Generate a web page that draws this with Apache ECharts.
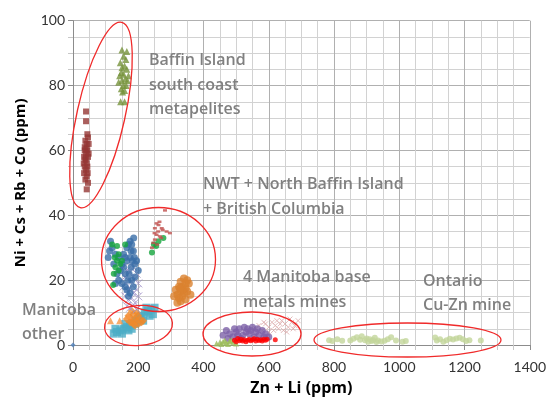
<!DOCTYPE html>
<html>
<head>
<meta charset="utf-8">
<script src="https://cdn.jsdelivr.net/npm/echarts@6/dist/echarts.min.js"></script>
<style>html,body{margin:0;padding:0;background:#fff}#c{width:549px;height:401px}</style>
</head>
<body>
<div id="c"></div>
<script>
// ---- data (x = Zn + Li ppm, y = Ni + Cs + Rb + Co ppm) ----
const xTicks = [0, 200, 400, 600, 800, 1000, 1200, 1400];
const yTicks = [0, 20, 40, 60, 80, 100];

const baffinSouthSquares = [[40,72],[40,69],[44,65],[46,64],[38,63],[42,62],[48,62],[36,61],[44,60],[40,59],[34,58],[46,58],[38,57],[42,56],[36,55],[44,55],[40,54],[34,53],[42,52],[38,51],[46,50],[42,48],[36,60],[48,59],[39,57.5],[45,53],[33,56],[41,60.5]];
const baffinSouthTriangles = [[150,91],[165,90.5],[155,89],[162,88],[145,87],[158,86],[150,85.5],[165,85],[148,84],[155,83.5],[170,83],[143,83],[160,82],[150,81.5],[167,81.5],[140,81],[155,80],[163,80],[148,79],[158,78.5],[152,78],[146,75],[158,75]];
const nwtBlue = [[115,32],[112,29],[108,27],[120,30],[125,25],[130,28],[140,27],[150,25],[155,24],[160,27],[165,30],[170,31],[175,32],[180,31],[185,29],[188,27],[182,26],[178,24],[172,22],[168,20],[160,22],[165,26],[175,27],[190,25],[195,26],[180,20],[185,18],[175,16],[170,15],[160,18],[150,19],[140,20],[135,22],[145,23],[155,28],[130,19],[200,23],[190,21],[165,17],[178,29],[186,33]];
const northBaffinGreen = [[120,31],[135,30.5],[160,31],[140,28],[128,27],[135,26],[145,25],[130,24],[140,23],[125,22],[123,18.5],[150,26],[242,28.5],[248,31],[262,32],[277,33],[255,30.5]];
const nwtPurpleX = [[155,24],[165,23],[175,22.5],[185,24],[195,22],[160,21],[170,20],[180,19.5],[190,20.5],[200,19],[155,18],[165,17],[175,17.5],[185,16],[195,17],[160,15],[170,14],[180,14.5],[190,13],[200,15],[165,12],[175,11.5],[185,12],[195,11],[150,20]];
const bcRedSmall = [[282,41.5],[256,37.5],[262,37],[272,36],[251,36],[261,35],[287,35],[297,34.5],[256,34],[266,33.5],[251,32.5],[246,31.5],[270,33],[258,31],[242,30],[275,35.5],[250,34.5],[265,38]];
const nwtOrange = [[340,20.5],[350,20],[330,19.5],[345,19],[355,19],[335,18],[325,18],[345,17.5],[315,17],[330,16.5],[340,16],[350,16.5],[320,15.5],[310,15],[335,15],[325,14.5],[345,14],[330,13.5],[320,13],[360,15.5],[338,17],[328,17.5]];
const manitobaOtherBlue = [[125,3.5],[135,4],[145,4.5],[155,5],[165,5.5],[175,6],[180,5],[190,6.5],[195,7],[200,8],[205,8.5],[210,9],[220,10],[230,10.5],[240,11],[250,11.5],[235,9],[215,7.5],[150,3.5],[170,4.5],[185,7.5],[225,11.5],[245,9.5],[130,5],[160,6.5]];
const manitobaOtherTriangles = [[115,7.5],[143,7.5],[170,9]];
const manitobaOtherOrange = [[165,8],[170,9],[175,8.5],[180,7],[185,9.5],[190,8],[195,7.5],[200,9],[205,8],[210,7],[185,6.5],[175,7],[195,10],[180,10.5],[215,7.5],[200,6.5],[190,6]];
const mineAPurple = [[460,3],[470,4.5],[480,3.5],[490,2.5],[500,4],[510,5],[520,3],[530,4],[540,3.5],[550,5.5],[560,4],[570,3],[580,4.5],[590,3.5],[600,2.5],[475,2],[495,5],[515,2],[535,5],[555,2.5],[545,4.5],[565,5],[585,2.5],[505,3],[525,5.5]];
const mineBPink = [[560,5],[570,6],[580,4.5],[590,6.5],[600,5.5],[610,7],[620,6],[630,5],[640,7.5],[650,6.5],[660,5.5],[670,7],[680,6],[690,7.5],[600,4],[625,7.5],[645,4.5],[665,8],[585,7],[615,4.5],[655,4],[675,5],[635,6.5]];
const mineCGreen = [[440,0.5],[450,0.8],[460,1],[470,0.6],[480,1.2],[490,0.8],[500,0.5],[455,0.3],[475,0.3],[485,1.5],[465,1.4]];
const mineDRed = [[495,1.5],[500,1],[505,2],[510,1.3],[515,1.8],[520,1.2],[525,1.6],[530,1],[540,1.8],[545,1.3],[550,1.6],[560,1.2],[565,1.8],[570,1.4],[575,1.6],[580,1.2],[590,1.5],[595,1.8],[620,1.6],[535,1.5],[555,1.9],[585,1.8]];
const ontarioCuZn = [[785,1.5],[795,1.2],[810,1.8],[825,1.3],[850,1.4],[860,1.9],[870,2.4],[880,1.6],[885,2.7],[895,1.5],[900,2.0],[905,1.0],[910,1.8],[915,1.2],[920,1.5],[925,2.2],[930,0.9],[935,1.4],[945,1.1],[955,1.3],[965,1.8],[975,2.4],[990,1.4],[1010,1.0],[1020,1.2],[1110,2.3],[1115,1.4],[1125,1.8],[1135,1.0],[1145,1.5],[1155,1.9],[1165,1.7],[1175,2.0],[1185,2.2],[1195,1.8],[1205,1.2],[1215,1.5],[1250,1.4]];
const originPoint = [[0,0]];

// ---- chart ----
const FONT = 'Lato, "Liberation Sans", sans-serif';
const AFONT = '"Open Sans", Lato, sans-serif';
const chart = echarts.init(document.getElementById('c'), null, {renderer: 'canvas'});
const xPath = 'path://M0,0L10,10M10,0L0,10';
function sc(data, symbol, size, color, extra) {
  return Object.assign({type: 'scatter', data: data, symbol: symbol, symbolSize: size,
    itemStyle: {color: color}, silent: true, animation: false}, extra || {});
}
const ellStyle = {fill: 'none', stroke: '#f02a2a', lineWidth: 1.3};
function ell(cx, cy, rx, ry, rot) {
  return {type: 'ellipse', shape: {cx: cx, cy: cy, rx: rx, ry: ry}, style: ellStyle,
    rotation: rot || 0, originX: cx, originY: cy, silent: true, z: 10};
}
// y = vertical centre of the whole text block
function label(x, y, text) {
  return {type: 'text', x: x, y: y, style: {text: text, fill: '#808080', font: '600 16px ' + AFONT,
    lineHeight: 24.5, textVerticalAlign: 'middle'}, silent: true, z: 11};
}
const axisCommon = {
  axisLine: {show: true, lineStyle: {color: '#8c8c8c', width: 1}},
  axisTick: {show: true, inside: false, length: 5, lineStyle: {color: '#8c8c8c'}},
  minorTick: {show: true, splitNumber: 4, length: 5, lineStyle: {color: '#c8c8c8'}},
  splitLine: {show: true, lineStyle: {color: '#b0b0b0', width: 1}},
  minorSplitLine: {show: true, lineStyle: {color: '#d2d2d2', width: 1}}
};
const plain = v => String(v);
chart.setOption({
  animation: false,
  grid: {left: 73, right: 19, top: 20.7, bottom: 55, containLabel: false},
  xAxis: Object.assign({type: 'value', min: xTicks[0], max: xTicks[xTicks.length - 1], interval: 200,
    name: 'Zn + Li (ppm)', nameLocation: 'middle', nameGap: 35,
    nameTextStyle: {fontFamily: AFONT, fontWeight: 'bold', fontSize: 16, color: '#000'},
    axisLabel: {fontFamily: FONT, fontSize: 14, color: '#333', margin: 15, formatter: plain}}, axisCommon),
  yAxis: Object.assign({type: 'value', min: yTicks[0], max: yTicks[yTicks.length - 1], interval: 20,
    name: 'Ni + Cs + Rb + Co (ppm)', nameLocation: 'middle', nameGap: 45,
    nameTextStyle: {fontFamily: AFONT, fontWeight: 'bold', fontSize: 15, color: '#000'},
    axisLabel: {fontFamily: FONT, fontSize: 14, color: '#333', margin: 8, formatter: plain}}, axisCommon),
  series: [
    sc(ontarioCuZn, 'circle', 6, '#c3d69b'),
    sc(mineBPink, xPath, 5, 'transparent', {itemStyle: {color: 'transparent', borderColor: '#dcaaaa', borderWidth: 1}}),
    sc(mineAPurple, 'circle', 7, '#7d62a8'),
    sc(mineCGreen, 'triangle', 6, '#9bbb59'),
    sc(mineDRed, 'circle', 5, '#ff0000'),
    sc(manitobaOtherBlue, 'rect', 8, '#4bacc6'),
    sc(manitobaOtherOrange, 'diamond', 8, '#ef8a2c'),
    sc(manitobaOtherTriangles, 'triangle', 7, '#f79646'),
    sc(nwtPurpleX, xPath, 8, 'transparent', {itemStyle: {color: 'transparent', borderColor: '#a092c8', borderWidth: 1}}),
    sc(nwtBlue, 'circle', 7, '#3a6ea8'),
    sc(northBaffinGreen, 'circle', 6, '#14a53c'),
    sc(bcRedSmall, 'rect', [4, 2.5], '#c0504d'),
    sc(nwtOrange, 'circle', 8, '#db8230'),
    sc(baffinSouthSquares, 'rect', 6, '#953735'),
    sc(baffinSouthTriangles, 'triangle', 7, '#77933c'),
    sc(originPoint, 'diamond', 5, '#4f81bd')
  ],
  graphic: [
    ell(101, 115, 24, 95, -0.22),
    ell(158.5, 259.5, 57, 52, 0),
    ell(138.5, 325.5, 34, 20, 0.08),
    ell(252, 334, 49, 22, 0),
    ell(407.5, 340, 93.5, 17, 0),
    label(149, 85, 'Baffin Island\nsouth coast\nmetapelites'),
    label(203, 197, 'NWT + North Baffin Island\n+ British Columbia'),
    label(243, 290, '4 Manitoba base\nmetals mines'),
    label(423, 293.5, 'Ontario\nCu-Zn mine'),
    label(22, 322.5, 'Manitoba\nother')
  ]
});
</script>
</body>
</html>
